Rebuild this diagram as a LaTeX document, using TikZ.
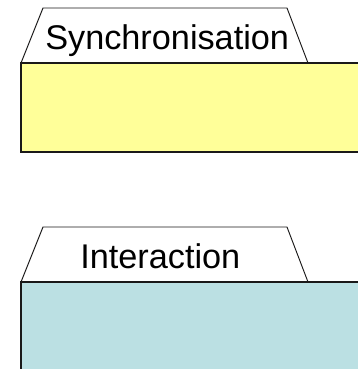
\documentclass[tikz,border=0pt]{standalone}
\usepackage{fontspec}
\setmainfont{Liberation Sans}
\usetikzlibrary{positioning}
\definecolor{black}{RGB}{26,25,25}
\definecolor{syncyellow}{RGB}{255,255,153}
\definecolor{interblue}{RGB}{187,224,227}
\tikzset{
    tab/.style={
        draw=black,
        fill=white,
        line width=0.7pt,
        line join=miter
    },
    body/.style={
        draw=black,
        line width=1.1pt,
        fill=#1
    },
    body/.default={white},
    title/.style={
        font=\fontsize{25.7}{30}\selectfont,
        inner sep=0pt,
        anchor=base west
    }
}

\begin{document}
\begin{tikzpicture}[x=0.75pt, y=-0.75pt]
    \useasboundingbox (0,0) rectangle (358,369);

    % Synchronisation package
    \draw[tab] (21,63) -- (43,8) -- (287,8) -- (308,63);
    \draw[body=syncyellow] (364,63) -- (21,63) -- (21,152) -- (364,152);
    \node[title] (sync) at (45,49) {Synchronisation};

    % Interaction package
    \draw[tab] (21,282) -- (43,227) -- (287,227) -- (308,282);
    \draw[body=interblue] (364,282) -- (21,282) -- (21,375) -- (364,375);
    \node[title] (inter) at (80,268) {Interaction};
\end{tikzpicture}
\end{document}
